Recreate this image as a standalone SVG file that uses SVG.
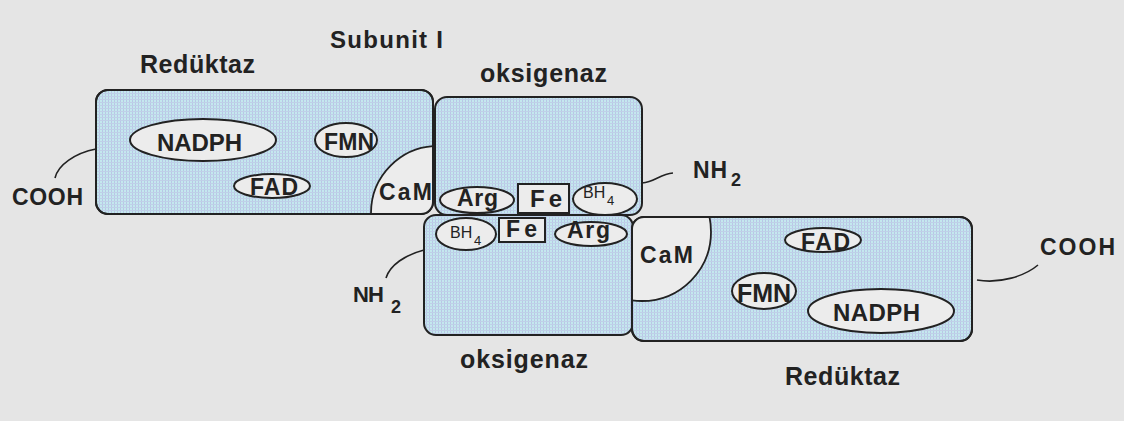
<svg xmlns="http://www.w3.org/2000/svg" width="1124" height="421" viewBox="0 0 1124 421">
<defs>
<pattern id="tex" width="3" height="3" patternUnits="userSpaceOnUse">
<rect width="3" height="3" fill="#c4e8ee"/>
<rect width="1" height="3" fill="#b9c6e6"/>
<rect width="3" height="1" fill="#bfd0e8"/>
</pattern>
<clipPath id="clipTR"><rect x="96" y="90" width="337" height="124" rx="12"/></clipPath>
<clipPath id="clipBR"><rect x="632" y="217" width="340" height="124" rx="12"/></clipPath>
<style>
.box{fill:url(#tex);stroke:#222;stroke-width:2}
.cam{fill:#ececec;stroke:#222;stroke-width:1.8}
.ell{fill:#ececec;stroke:#222;stroke-width:2}
.t{font-family:"Liberation Sans",Arial,sans-serif;font-weight:bold;fill:#222}
.r{font-family:"Liberation Sans",Arial,sans-serif;fill:#222}
.c{fill:none;stroke:#222;stroke-width:1.6}
</style>
</defs>
<rect width="1124" height="421" fill="#e5e5e5"/>

<g id="labels">
<text class="t" x="330" y="48" font-size="24" textLength="113">Subunit I</text>
<text class="t" x="140" y="73" font-size="25" textLength="115">Redüktaz</text>
<text class="t" x="480" y="82" font-size="25" textLength="127">oksigenaz</text>
<text class="t" x="460" y="368" font-size="25" textLength="128">oksigenaz</text>
<text class="t" x="785" y="385" font-size="25" textLength="115">Redüktaz</text>
</g>

<g id="connectors">
<path class="c" d="M96,149 C75,153 58,165 55,178"/>
<path class="c" d="M642,183 C655,182 660,174 673,173"/>
<path class="c" d="M424,250 C405,255 390,265 386,278"/>
<path class="c" d="M977,280 C1000,284 1025,276 1038,265"/>
</g>

<g id="reduktaz-top">
<rect class="box" x="96" y="90" width="337" height="124" rx="12"/>
<circle class="cam" cx="438" cy="213" r="67" clip-path="url(#clipTR)"/>
<rect x="96" y="90" width="337" height="124" rx="12" fill="none" stroke="#222" stroke-width="2"/>
<ellipse class="ell" cx="203" cy="140" rx="73" ry="21"/>
<text class="t" x="157" y="151" font-size="24" textLength="85">NADPH</text>
<ellipse class="ell" cx="346" cy="140" rx="31" ry="17"/>
<text class="t" x="324" y="150" font-size="23" textLength="50">FMN</text>
<ellipse class="ell" cx="272" cy="186" rx="38" ry="12"/>
<text class="t" x="250" y="195" font-size="23" textLength="48">FAD</text>
<text class="t" x="379" y="200" font-size="23" textLength="53">CaM</text>
</g>

<g id="cooh-left">
<text class="t" x="12" y="205" font-size="23" textLength="71">COOH</text>
</g>

<g id="oksigenaz-top">
<rect class="box" x="435" y="97" width="207" height="118" rx="12"/>
<ellipse class="ell" cx="477" cy="200" rx="37" ry="13"/>
<text class="t" x="457" y="206" font-size="23" textLength="41">Arg</text>
<rect class="ell" x="518" y="184" width="51" height="29"/>
<text class="t" x="530" y="207" font-size="24" textLength="32">Fe</text>
<ellipse class="ell" cx="605" cy="199" rx="32" ry="16"/>
<text class="r" x="583" y="198" font-size="16">BH</text>
<text class="r" x="607" y="205" font-size="13">4</text>
</g>

<g id="nh2-top">
<text class="t" x="693" y="178" font-size="23" textLength="34">NH</text>
<text class="t" x="731" y="186" font-size="18">2</text>
</g>

<g id="oksigenaz-bottom">
<rect class="box" x="424" y="215" width="209" height="120" rx="12"/>
<ellipse class="ell" cx="466" cy="234" rx="30" ry="16"/>
<text class="r" x="450" y="238" font-size="16">BH</text>
<text class="r" x="474" y="245" font-size="13">4</text>
<rect class="ell" x="499" y="218" width="46" height="24"/>
<text class="t" x="506" y="237" font-size="23" textLength="31">Fe</text>
<ellipse class="ell" cx="591" cy="234" rx="36" ry="12"/>
<text class="t" x="567" y="238" font-size="23" textLength="43">Arg</text>
</g>

<g id="nh2-bottom">
<text class="t" x="353" y="302" font-size="22" textLength="31">NH</text>
<text class="t" x="391" y="313" font-size="18">2</text>
</g>

<g id="reduktaz-bottom">
<rect class="box" x="632" y="217" width="340" height="124" rx="12"/>
<circle class="cam" cx="642" cy="232" r="69" clip-path="url(#clipBR)"/>
<rect x="632" y="217" width="340" height="124" rx="12" fill="none" stroke="#222" stroke-width="2"/>
<text class="t" x="640" y="263" font-size="23" textLength="53">CaM</text>
<ellipse class="ell" cx="823" cy="240" rx="38" ry="12"/>
<text class="t" x="801" y="250" font-size="23" textLength="49">FAD</text>
<ellipse class="ell" cx="764" cy="291" rx="32" ry="18"/>
<text class="t" x="737" y="302" font-size="25" textLength="54">FMN</text>
<ellipse class="ell" cx="881" cy="311" rx="73" ry="22"/>
<text class="t" x="833" y="321" font-size="24" textLength="87">NADPH</text>
</g>

<g id="cooh-right">
<text class="t" x="1040" y="255" font-size="23" textLength="75">COOH</text>
</g>
</svg>
